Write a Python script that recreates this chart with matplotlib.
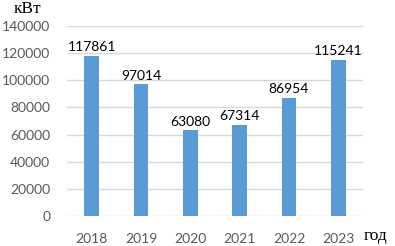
import matplotlib.pyplot as plt
import numpy as np

years = ['2018', '2019', '2020', '2021', '2022', '2023']
power = [117861, 97014, 63080, 67314, 86954, 115241]

plt.rcParams['font.family'] = ['Lato', 'DejaVu Sans']

fig = plt.figure(figsize=(3.95, 2.46), dpi=100)
ax = fig.add_axes([67 / 395, 30 / 246, 296 / 395, 190 / 246])

x = np.arange(len(years))
bars = ax.bar(x, power, width=0.3, color='#5B9BD5', zorder=3)
for b, v in zip(bars, power):
    ax.text(b.get_x() + b.get_width() / 2, v + 2000, str(v),
            ha='center', va='bottom', fontsize=10, color='black')

ax.set_xlim(-0.5, len(years) - 0.5)
ax.set_ylim(0, 140000)
ax.set_yticks(np.arange(0, 140001, 20000))
ax.set_xticks(x)
ax.set_xticklabels(years)
ax.tick_params(axis='both', length=0, labelsize=10, labelcolor='#595959')
ax.tick_params(axis='x', pad=12)
ax.tick_params(axis='y', pad=12)
ax.grid(axis='y', color='#D9D9D9', linewidth=1, zorder=0)
for s in ax.spines.values():
    s.set_visible(False)

fig.text(14 / 395, 1 - 9 / 246, 'кВт', family='Liberation Serif', fontsize=12.5,
         va='center', ha='left')
fig.text(364 / 395, 1 - 236 / 246, 'год', family='Liberation Serif', fontsize=12.5,
         va='center', ha='left')

fig.savefig('out.png', dpi=100)
